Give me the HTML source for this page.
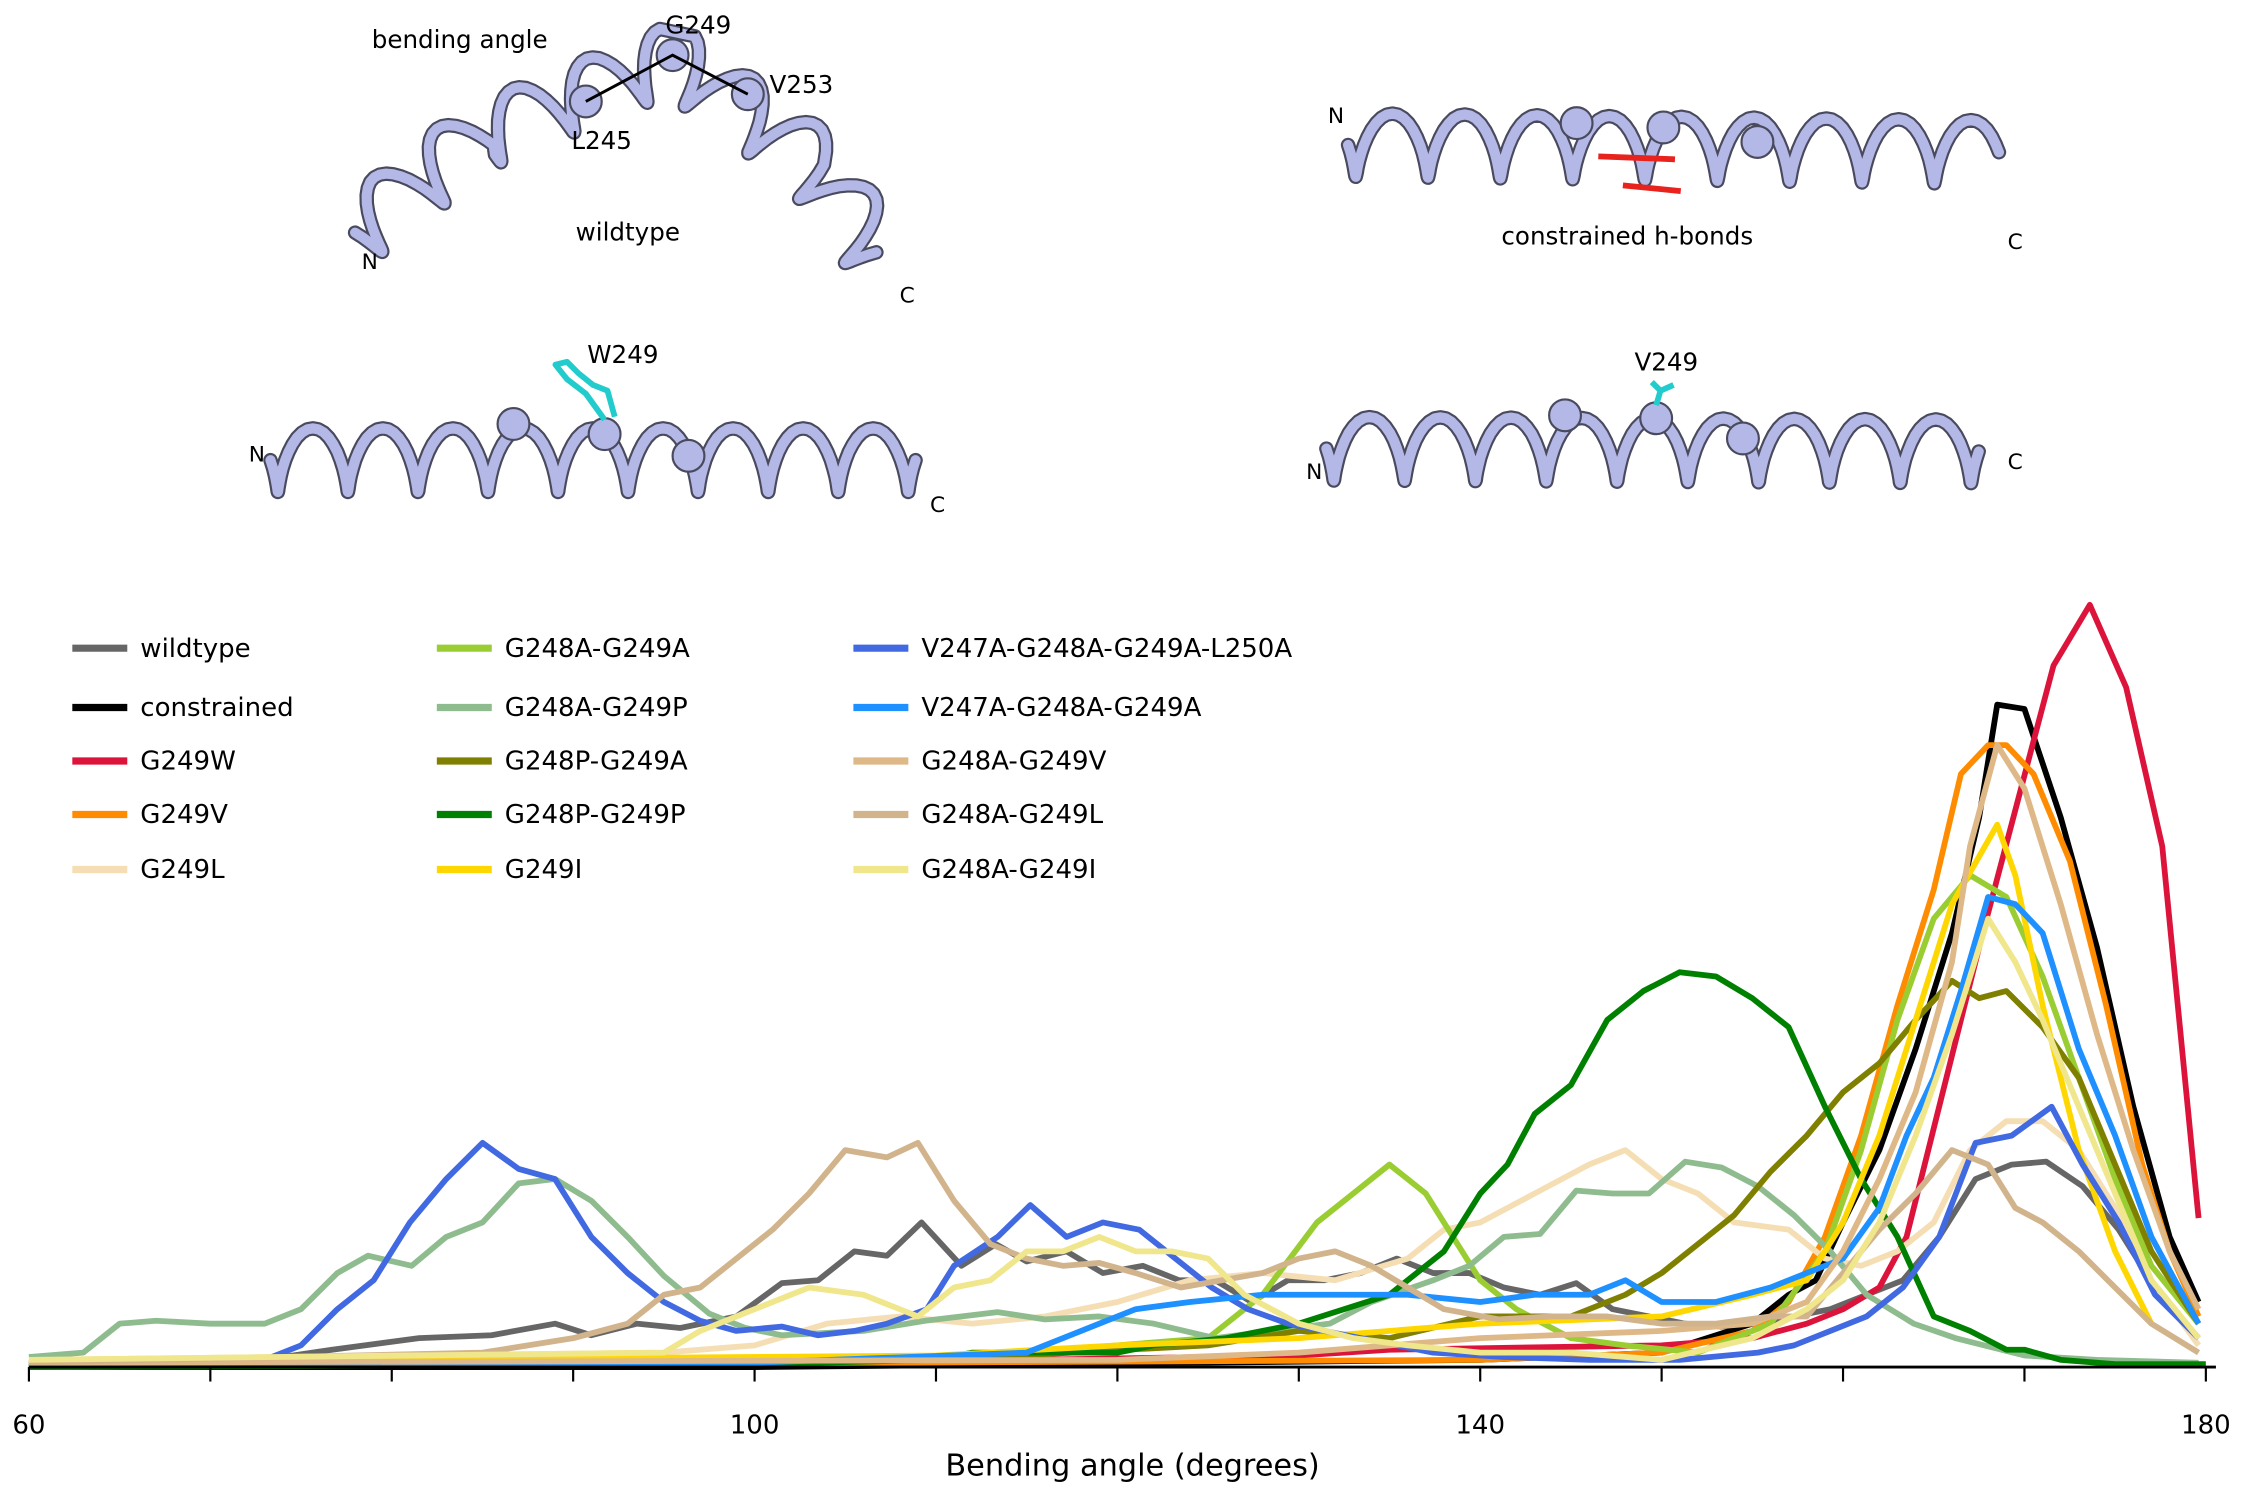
<!DOCTYPE html>
<html><head><meta charset="utf-8"><style>
html,body{margin:0;padding:0;background:#fff}
svg{display:block;font-family:"DejaVu Sans","Liberation Sans",sans-serif}
</style></head><body>
<svg id="fig" width="2268" height="1496" viewBox="0 0 1568 1034" xmlns="http://www.w3.org/2000/svg">
<g id="structs"></g>
<g id="chart"></g>
</svg>
<script>
// ---- chart data (heights in arbitrary density units) ----
const xTicks=[60,70,80,90,100,110,120,130,140,150,160,170,180];
const xTickLabels=[60,100,140,180];
const wtX=[60,70,74,76.7,81.5,85.5,89,91,93.5,95.9,99,101.5,103.5,105.5,107.3,109.2,111.4,113.3,115,117.2,119.2,121.4,123.4,125.4,127.4,129.4,131.4,133.4,135.4,137.4,139.4,141.3,143.3,145.3,147.3,149.3,151.3,153.3,155.3,157.3,159.3,161.3,163.3,165.3,167.3,169.3,171.2,173.2,175.2,177.2,179.6];
const wtY=[.02,.03,.07,.12,.2,.22,.3,.22,.3,.27,.35,.58,.6,.8,.77,1.0,.7,.85,.73,.8,.65,.7,.6,.6,.45,.6,.6,.65,.75,.65,.65,.55,.5,.58,.4,.35,.3,.28,.3,.35,.4,.5,.6,.9,1.3,1.4,1.42,1.25,.95,.55,.2];
const conX=[60,100,140,150,155,157,158.5,160,162,164,166,167.5,168.5,170,172,174,176,178,179.6];
const conY=[0,0,.05,.1,.3,.5,.6,1.0,1.5,2.2,3.0,3.8,4.58,4.55,3.8,2.9,1.8,.9,.45];
const wX=[60,115,130,135,150,155,158,160,162,163.5,165.2,167.6,169.6,171.6,173.6,175.6,177.6,179.6];
const wY=[0,.05,.08,.12,.15,.2,.3,.4,.55,.9,1.75,2.95,3.9,4.85,5.27,4.7,3.6,1.03];
const vX=[60,140,150,155,157,159,161,163,165,166.5,168,169,170.5,172.5,174.5,176.5,178,179.6];
const vY=[0,.05,.1,.25,.45,.9,1.6,2.5,3.3,4.1,4.3,4.3,4.1,3.5,2.5,1.4,.8,.35];
const lX=[60,95,100,104,108,112,116,120,124,128,132,136,138,140,143,146,148,150,152,154,157,159,161,163,165,167,169,171,173,175,177,179.6];
const lY=[.05,.1,.15,.3,.35,.3,.35,.45,.6,.65,.6,.75,.95,1.0,1.2,1.4,1.5,1.3,1.2,1.0,.95,.75,.7,.8,1.0,1.5,1.7,1.7,1.5,1.1,.6,.15];
const aaX=[60,110,125,128,131,133,135,137,138.5,140,142,145,148,152,156,159,161,163,165,167,169,171,173,175,177,179.6];
const aaY=[.02,.05,.2,.5,1.0,1.2,1.4,1.2,.9,.6,.4,.2,.15,.1,.3,.8,1.5,2.4,3.1,3.4,3.25,2.7,2.0,1.3,.7,.3];
const apX=[60,63,65,67,70,73,75,77,78.7,81.1,83,85,87,89,91,93,95,97.5,99.5,101.5,106,109.4,113.4,116,119,122,125.4,128.5,131.7,134,137.4,139.4,141.3,143.3,145.3,147.3,149.3,151.3,153.3,155.3,157.3,159.3,161.3,163.9,166.2,170,174,179.6];
const apY=[.07,.1,.3,.32,.3,.3,.4,.65,.77,.7,.9,1.0,1.27,1.3,1.15,.9,.63,.37,.27,.22,.25,.32,.38,.33,.35,.3,.2,.25,.3,.45,.6,.7,.9,.92,1.22,1.2,1.2,1.42,1.38,1.25,1.05,.8,.5,.3,.2,.08,.05,.03];
const paX=[60,110,125,130,135,140,145,148,150,152,154,156,158,160,162,164,166,167.5,169,171,173,175,177,179.6];
const paY=[0,.05,.15,.25,.2,.35,.35,.5,.65,.85,1.05,1.35,1.6,1.9,2.1,2.4,2.67,2.55,2.6,2.35,2.0,1.4,.8,.3];
const ppX=[60,100,110,112,120,122,126,130,135,138,140,141.5,143,145,147,149,151,153,155,157,159,161,163,165,167,169,170,172,175,180];
const ppY=[0,.02,.05,.1,.1,.15,.2,.3,.5,.8,1.2,1.4,1.75,1.95,2.4,2.6,2.73,2.7,2.55,2.35,1.8,1.3,.9,.35,.25,.12,.12,.05,.02,.02];
const iX=[60,110,120,130,140,150,155,158,160,162,164,166,168.5,169.5,171,173,175,177];
const iY=[.03,.08,.15,.2,.3,.35,.5,.6,1.0,1.6,2.4,3.2,3.75,3.4,2.5,1.5,.8,.3];
const bqX=[60,73,75,77,79,81,83,85,87,89,91,93,95,97,99,101.5,103.5,105.5,107.3,109.5,111,113.4,115.2,117.2,119.2,121.2,123.2,125.2,127.2,129.4,133.4,137.4,141.3,146,151,155.3,157.3,159.3,161.3,163.3,165.3,167.3,169.3,171.5,173.2,175.2,177.2,179.6];
const bqY=[.02,.05,.15,.4,.6,1.0,1.3,1.55,1.37,1.3,.9,.65,.45,.32,.25,.28,.22,.25,.3,.4,.7,.9,1.12,.9,1.0,.95,.75,.55,.4,.3,.2,.1,.07,.05,.05,.1,.15,.25,.35,.55,.9,1.55,1.6,1.8,1.4,1.0,.5,.2];
const btX=[60,100,115,118,121,124,128,132,136,140,143,146,148,150,153,156,158,160,162,163.5,165,166.5,168,169.5,171,173,175,177,179.6];
const btY=[.02,.03,.1,.25,.4,.45,.5,.5,.5,.45,.5,.5,.6,.45,.45,.55,.65,.75,1.1,1.6,2.0,2.6,3.25,3.2,3.0,2.2,1.6,.9,.3];
const avX=[60,120,130,140,150,155,158,160,162,164,166,167,168.5,170,172,174,176,178,179.6];
const avY=[.03,.05,.1,.2,.25,.3,.45,.8,1.3,1.9,2.8,3.6,4.3,4.0,3.2,2.3,1.5,.8,.4];
const alX=[60,85,90,93,95,97,99,101,103,105,107.3,109,111,113,115,117,119,121,123.5,128,130,132,134,136,138,141,144,147,150,153,156,158,160,162,164,166,168,169.5,171,173,175,177,179.6];
const alY=[.03,.1,.2,.3,.5,.55,.75,.95,1.2,1.5,1.45,1.55,1.15,.85,.75,.7,.72,.65,.55,.65,.75,.8,.7,.55,.4,.33,.35,.35,.3,.3,.35,.35,.65,.95,1.2,1.5,1.4,1.1,1.0,.8,.55,.3,.1];
const aiX=[60,95,97,100,103,106,109,111,113,115,117,119,121,123,125,127,130,133,136,140,145,150,155,158,160,162,164,166,168,169.5,171,173,175,177,179.6];
const aiY=[.05,.1,.25,.4,.55,.5,.35,.55,.6,.8,.8,.9,.8,.8,.75,.5,.3,.2,.15,.1,.1,.05,.2,.4,.6,1.0,1.6,2.3,3.1,2.8,2.4,1.8,1.2,.6,.2];

const series=[
 ["wildtype","#666666",wtX,wtY],["constrained","#000000",conX,conY],["G249W","#dc143c",wX,wY],
 ["G249V","#ff8c00",vX,vY],["G249L","#f5deb3",lX,lY],["G248A-G249A","#9acd32",aaX,aaY],
 ["G248A-G249P","#8fbc8f",apX,apY],["G248P-G249A","#808000",paX,paY],["G248P-G249P","#008000",ppX,ppY],
 ["G249I","#ffd700",iX,iY],["V247A-G248A-G249A-L250A","#4169e1",bqX,bqY],["V247A-G248A-G249A","#1e90ff",btX,btY],
 ["G248A-G249V","#deb887",avX,avY],["G248A-G249L","#d2b48c",alX,alY],["G248A-G249I","#f0e68c",aiX,aiY]];

const NS="http://www.w3.org/2000/svg";
function mk(tag,attrs,parent,txt){const e=document.createElementNS(NS,tag);for(const k in attrs)e.setAttribute(k,attrs[k]);if(txt!==undefined)e.textContent=txt;parent.appendChild(e);return e;}
const xS=a=>20+(a-60)*12.542;
const yS=v=>945-v*100;
const chart=document.getElementById('chart');

series.forEach((s,i)=>{
  const d=s[2].map((a,j)=>(j?'L':'M')+xS(a).toFixed(1)+','+yS(s[3][j]).toFixed(1)).join('');
  const p=mk('path',{d:d,fill:'none',stroke:s[1],'stroke-width':4,'stroke-linejoin':'round'},chart);
  
  
});
const ax=mk('line',{x1:20,y1:945,x2:1532,y2:945,stroke:'#000','stroke-width':2},chart);


xTicks.forEach(t=>{
  const tk=mk('line',{x1:xS(t),y1:945,x2:xS(t),y2:955,stroke:'#000','stroke-width':1.5},chart);
  
  
});
xTickLabels.forEach(t=>{
  const tl=mk('text',{x:xS(t),y:991,'font-size':18,'text-anchor':'middle'},chart,String(t));
  
  
});
const xt=mk('text',{x:783,y:1020,'font-size':21,'text-anchor':'middle'},chart,'Bending angle (degrees)');


const cols=[50,302,590],rows=[448,489,526,563,601];
series.forEach((s,i)=>{
  const c=Math.floor(i/5),r=i%5;
  const g=mk('g',{},chart);
  
  
  mk('line',{x1:cols[c],y1:rows[r],x2:cols[c]+38,y2:rows[r],stroke:s[1],'stroke-width':5},g);
  mk('text',{x:cols[c]+47,y:rows[r]+6,'font-size':18},g,s[0]);
});

// ---- protein cartoons ----
const st=document.getElementById('structs');
function helixPath(pts,turns,A,B){
  let d='',N=turns*24;
  const segs=[];let L=0;
  for(let i=1;i<pts.length;i++){const dx=pts[i][0]-pts[i-1][0],dy=pts[i][1]-pts[i-1][1];const l=Math.hypot(dx,dy);segs.push([pts[i-1],dx/l,dy/l,l]);L+=l;}
  for(let k=0;k<=N;k++){
    let s=L*k/N,j=0;while(j<segs.length-1&&s>segs[j][3]){s-=segs[j][3];j++;}
    const [p,ux,uy]=segs[j];const ph=2*Math.PI*turns*k/N;
    const x=p[0]+ux*s+ux*B*Math.cos(ph)-uy*A*Math.sin(ph);
    const y=p[1]+uy*s+uy*B*Math.cos(ph)+ux*A*Math.sin(ph);
    d+=(k?'L':'M')+x.toFixed(1)+','+y.toFixed(1);
  }
  return d;
}
function drawHelix(name,pts,turns,spheres,labels){
  const g=mk('g',{},st);
  
  
  const d=helixPath(pts,turns,22,7);
  mk('path',{d:d,fill:'none',stroke:'#4a4a5e','stroke-width':10,'stroke-linejoin':'round','stroke-linecap':'round'},g);
  mk('path',{d:d,fill:'none',stroke:'#b4b8e6','stroke-width':7,'stroke-linejoin':'round','stroke-linecap':'round'},g);
  spheres.forEach(p=>{mk('circle',{cx:p[0],cy:p[1],r:11,fill:'#b4b8e6',stroke:'#4a4a5e','stroke-width':1.5},g);});
  labels.forEach(l=>{mk('text',{x:l[0],y:l[1],'font-size':l[3]||17},g,l[2]);});
  return g;
}
drawHelix('wildtype-structure',[[240,165],[330,95],[465,40],[560,110],[610,180]],8.5,[[405,70],[465,38],[517,65]],
 [[257,33,'bending angle'],[460,23,'G249'],[532,64,'V253'],[395,103,'L245'],[398,166,'wildtype'],[250,186,'N',15],[622,209,'C',15]]);
const bl=mk('polyline',{points:'405,70 465,38 517,65',fill:'none',stroke:'#000','stroke-width':2},st);


drawHelix('constrained-structure',[[925,100],[1375,105]],9,[[1090,85],[1150,88],[1215,98]],
 [[918,85,'N',15],[1388,172,'C',15],[1038,169,'constrained h-bonds']]);
[[1105,108,1158,110],[1122,128,1162,132]].forEach(b=>{const l=mk('line',{x1:b[0],y1:b[1],x2:b[2],y2:b[3],stroke:'#e8231e','stroke-width':4},st);});
drawHelix('g249w-structure',[[180,318],[640,318]],9.5,[[355,293],[418,300],[476,315]],
 [[406,251,'W249'],[172,319,'N',15],[643,354,'C',15]]);
const sc=mk('path',{d:'M418,290 L405,272 L392,262 L384,252 L392,250 L400,258 L410,266 L420,270 L425,288',fill:'none',stroke:'#22cccc','stroke-width':4,'stroke-linejoin':'round'},st);


drawHelix('g249v-structure',[[910,310],[1375,312]],9.5,[[1082,287],[1145,289],[1205,303]],
 [[1130,256,'V249'],[903,331,'N',15],[1388,324,'C',15]]);
const sc2=mk('path',{d:'M1145,280 L1148,270 L1142,264 M1148,270 L1157,266',fill:'none',stroke:'#22cccc','stroke-width':4},st);


</script>
</body></html>
